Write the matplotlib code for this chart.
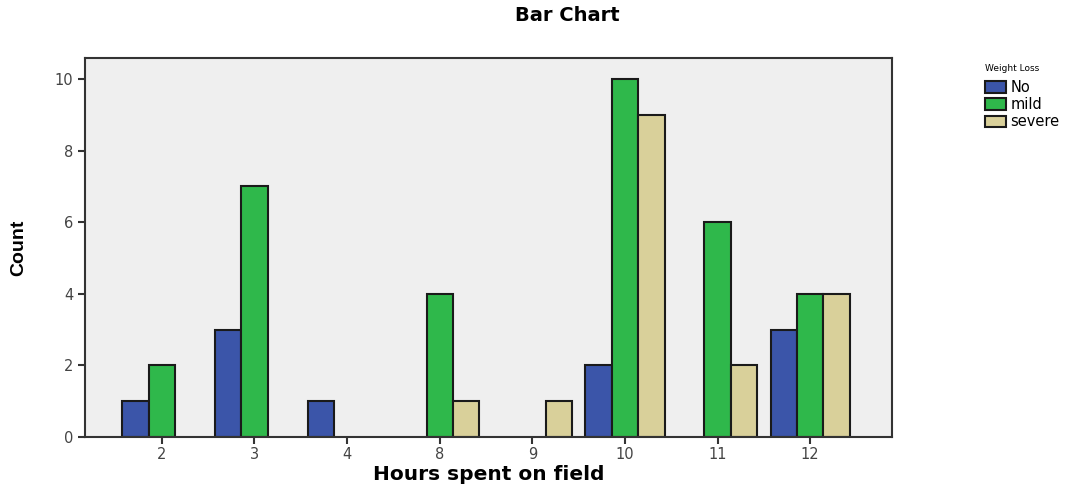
import matplotlib
matplotlib.use("Agg")
import matplotlib.pyplot as plt
import numpy as np

categories = ["2", "3", "4", "8", "9", "10", "11", "12"]
no_vals = [1, 3, 1, 0, 0, 2, 0, 3]
mild_vals = [2, 7, 0, 4, 0, 10, 6, 4]
severe_vals = [0, 0, 0, 1, 1, 9, 2, 4]
series_names = ["No", "mild", "severe"]
colors = ["#3b55a9", "#2fb84b", "#d9d09a"]

plt.rcParams['font.family'] = ['DejaVu Sans']

fig = plt.figure(figsize=(10.8, 4.9), dpi=100)
ax = fig.add_axes([0.0787, 0.108, 0.747, 0.774])
ax.set_facecolor("#efefef")

x = np.arange(len(categories))
w = 0.285
handles = []
for i, (vals, c, name) in enumerate(zip([no_vals, mild_vals, severe_vals], colors, series_names)):
    v = np.array(vals, dtype=float)
    mask = v > 0
    b = ax.bar(x[mask] + (i - 1) * w, v[mask], width=w, color=c, edgecolor="#1a1a1a", linewidth=1.5, label=name)
    handles.append(b)

ax.set_xlim(-0.83, 7.88)
ax.set_ylim(0, 10.59)
ax.set_xticks(x)
ax.set_xticklabels(categories)
ax.set_yticks([0, 2, 4, 6, 8, 10])
ax.tick_params(axis='both', direction='out', length=5, width=1.5, labelsize=10.5, colors="#333333", labelcolor="#444444")
ax.tick_params(axis='x', pad=2)
for s in ax.spines.values():
    s.set_linewidth(1.5)
    s.set_color("#333333")

ax.set_xlabel("Hours spent on field", fontsize=14.5, fontweight='bold', labelpad=2)
ax.set_ylabel("Count", fontsize=14, fontweight='bold', family=['Liberation Sans'], labelpad=20)
fig.suptitle("Bar Chart", x=0.525, y=0.988, fontsize=14, fontweight='bold')

leg = fig.legend(handles=handles, labels=series_names, title="Weight Loss", loc='upper left',
                 bbox_to_anchor=(0.903, 0.89), frameon=False, fontsize=10.5,
                 title_fontsize=6.5, handlelength=1.4, handleheight=0.85, handletextpad=0.3,
                 labelspacing=0.15, borderpad=0.2)
leg._legend_box.align = "left"
leg._legend_box.sep = 5

fig.savefig("out.png", dpi=100)
